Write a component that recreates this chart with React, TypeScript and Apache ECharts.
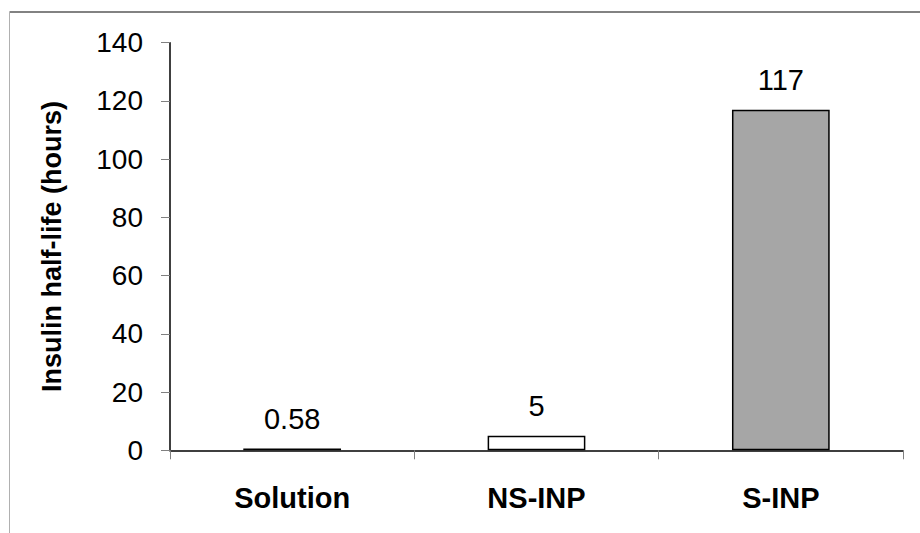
import React, { useEffect, useRef } from "react";
import * as echarts from "echarts";

const categories = ["Solution", "NS-INP", "S-INP"];
const halfLifeHours = [0.58, 5, 117];
const valueLabels = ["0.58", "5", "117"];
const barColors = ["#404040", "#ffffff", "#a6a6a6"];
const yTicks = { min: 0, max: 140, interval: 20 };
const yAxisTitle = "Insulin half-life (hours)";

const FONT = "'Liberation Sans', Arial, sans-serif";

export default function App() {
  const ref = useRef<HTMLDivElement>(null);
  useEffect(() => {
    if (!ref.current) return;
    const chart = echarts.init(ref.current, undefined, { renderer: "svg" });
    chart.setOption({
      animation: false,
      backgroundColor: "#ffffff",
      textStyle: { fontFamily: FONT },
      grid: { left: 170, right: 17, top: 42.7, bottom: 82.7, containLabel: false },
      graphic: [
        {
          type: "line",
          shape: { x1: 9.5, y1: 12, x2: 920, y2: 12 },
          style: { stroke: "#595959", lineWidth: 1.5 },
          silent: true,
        },
        {
          type: "line",
          shape: { x1: 9.5, y1: 12, x2: 9.5, y2: 533 },
          style: { stroke: "#b0b0b0", lineWidth: 1 },
          silent: true,
        },
      ],
      xAxis: {
        type: "category",
        data: categories,
        boundaryGap: true,
        axisLine: { show: true, lineStyle: { color: "#000000", width: 1.5 } },
        axisTick: { show: true, interval: 0, alignWithLabel: false, length: 9, lineStyle: { color: "#808080", width: 1 } },
        axisLabel: {
          interval: 0,
          margin: 33,
          fontSize: 29,
          fontWeight: "bold",
          color: "#000000",
          fontFamily: FONT,
        },
        splitLine: { show: false },
      },
      yAxis: {
        type: "value",
        min: yTicks.min,
        max: yTicks.max,
        interval: yTicks.interval,
        name: yAxisTitle,
        nameLocation: "middle",
        nameGap: 105,
        nameRotate: 90,
        nameTextStyle: { fontSize: 27, fontWeight: "bold", color: "#000000", fontFamily: FONT },
        axisLine: { show: true, lineStyle: { color: "#000000", width: 1.5 } },
        axisTick: { show: true, length: 9, lineStyle: { color: "#808080", width: 1 } },
        axisLabel: { margin: 27, fontSize: 28, color: "#000000", fontFamily: FONT },
        splitLine: { show: false },
      },
      series: [
        {
          type: "bar",
          barWidth: "40%",
          data: halfLifeHours.map((v, i) => ({
            value: v,
            itemStyle: { color: barColors[i], borderColor: "#000000", borderWidth: 1.5 },
            label: {
              show: true,
              position: "top",
              distance: 15,
              formatter: () => valueLabels[i],
              fontSize: 29,
              color: "#000000",
              fontFamily: FONT,
            },
          })),
        },
      ],
    });
    return () => chart.dispose();
  }, []);
  return (
    <div
      ref={ref}
      style={{ position: "fixed", left: 0, top: 0, width: 920, height: 533 }}
    />
  );
}
